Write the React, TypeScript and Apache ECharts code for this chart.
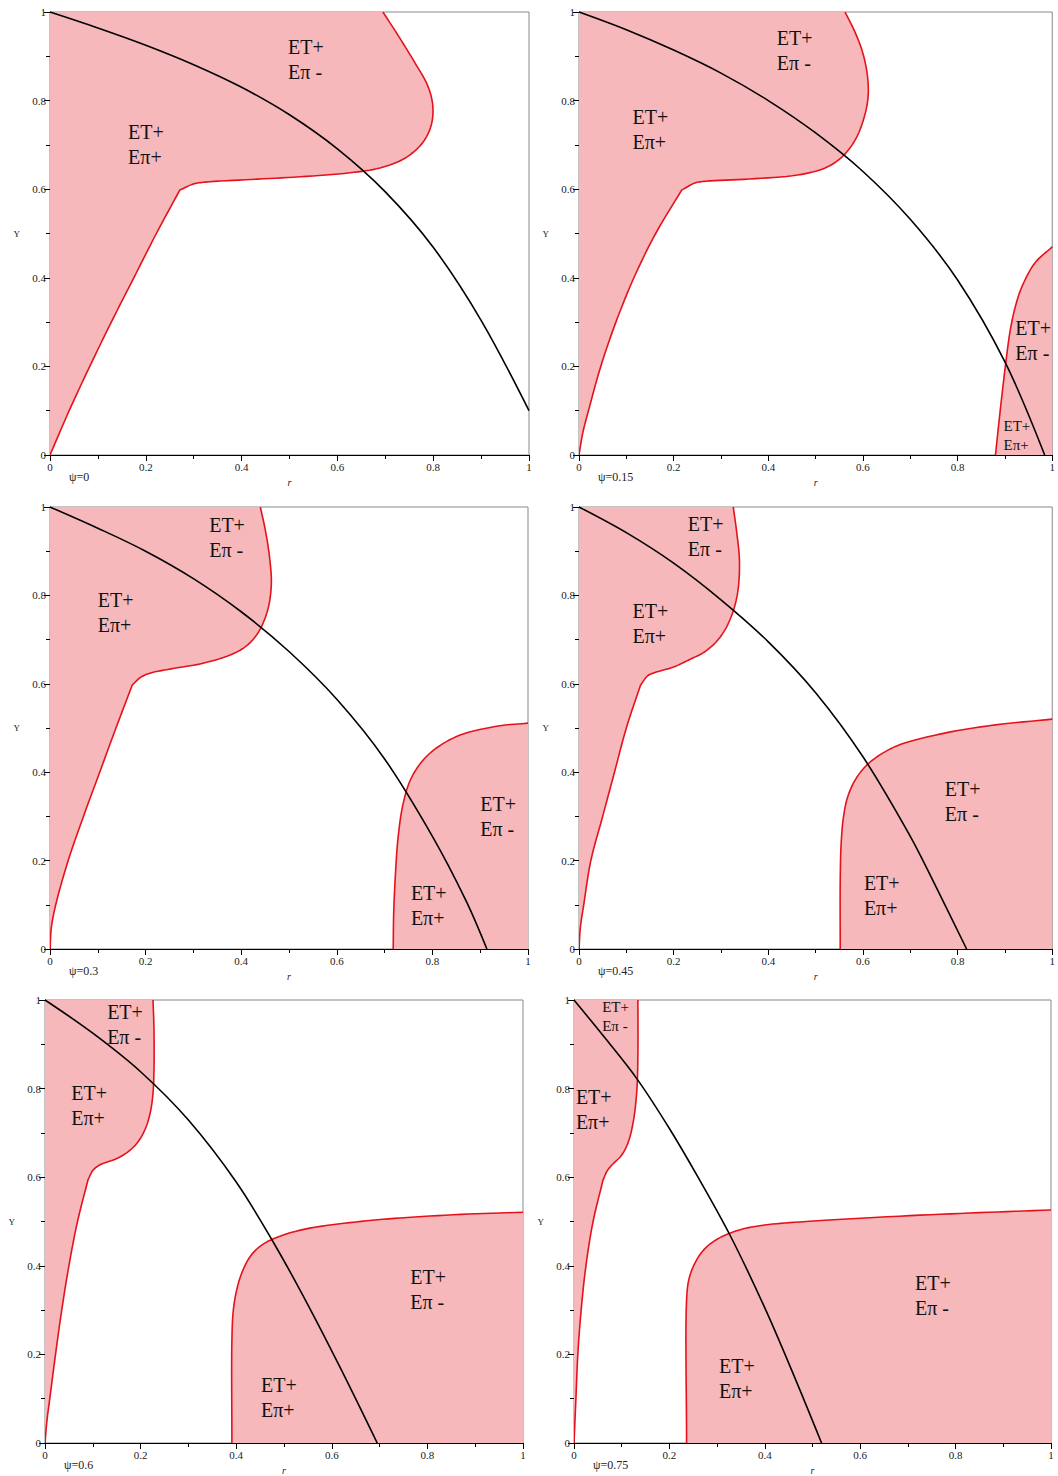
import React, { useEffect, useRef } from "react";
import * as echarts from "echarts";

// ---------- data ----------
const psiLabels = ["ψ=0", "ψ=0.15", "ψ=0.3", "ψ=0.45", "ψ=0.6", "ψ=0.75"];
const axisMin = 0;
const axisMax = 1;
const tickStep = 0.2;

// black curves
const blackP1 = [[0, 1], [0.1, 0.964], [0.2, 0.925], [0.3, 0.881], [0.4, 0.83], [0.5, 0.768], [0.6, 0.691], [0.7, 0.594], [0.8, 0.469], [0.9, 0.304], [1, 0.1]];
const blackP2 = [[0, 1], [0.1, 0.96], [0.2, 0.914], [0.3, 0.862], [0.4, 0.8], [0.5, 0.727], [0.6, 0.64], [0.7, 0.532], [0.8, 0.395], [0.9, 0.21], [0.984, 0]];
const blackP3 = [[0, 1], [0.1, 0.952], [0.2, 0.9], [0.3, 0.838], [0.4, 0.763], [0.5, 0.673], [0.6, 0.565], [0.7, 0.43], [0.8, 0.255], [0.87, 0.11], [0.914, 0]];
const blackP4 = [[0, 1], [0.1, 0.942], [0.2, 0.873], [0.3, 0.79], [0.4, 0.695], [0.5, 0.58], [0.6, 0.435], [0.7, 0.255], [0.75, 0.15], [0.819, 0]];
const blackP5 = [[0, 1], [0.1, 0.925], [0.2, 0.838], [0.3, 0.729], [0.4, 0.589], [0.481, 0.447], [0.55, 0.312], [0.62, 0.165], [0.695, 0]];
const blackP6 = [[0, 1], [0.066, 0.913], [0.132, 0.822], [0.2, 0.71], [0.26, 0.6], [0.329, 0.465], [0.4, 0.305], [0.46, 0.155], [0.519, 0]];

// red boundaries of the upper-left regions
const upperP1 = [[0, 0], [0.04, 0.1], [0.083, 0.2], [0.128, 0.3], [0.175, 0.4], [0.222, 0.5], [0.271, 0.598], [0.3, 0.612], [0.324, 0.616], [0.42, 0.622], [0.522, 0.628], [0.626, 0.637], [0.689, 0.648], [0.741, 0.67], [0.778, 0.705], [0.796, 0.745], [0.799, 0.79], [0.788, 0.835], [0.762, 0.885], [0.728, 0.945], [0.695, 1]];
const upperP2 = [[0, 0], [0.008, 0.05], [0.02, 0.1], [0.046, 0.2], [0.078, 0.3], [0.116, 0.4], [0.162, 0.5], [0.217, 0.598], [0.245, 0.614], [0.268, 0.618], [0.36, 0.623], [0.462, 0.632], [0.52, 0.648], [0.555, 0.672], [0.583, 0.71], [0.602, 0.76], [0.611, 0.81], [0.609, 0.86], [0.599, 0.91], [0.583, 0.955], [0.562, 1]];
const upperP3 = [[0, 0], [0.003, 0.05], [0.012, 0.1], [0.038, 0.2], [0.07, 0.3], [0.104, 0.4], [0.138, 0.5], [0.172, 0.597], [0.19, 0.615], [0.209, 0.624], [0.26, 0.635], [0.314, 0.645], [0.377, 0.665], [0.41, 0.685], [0.435, 0.715], [0.455, 0.765], [0.463, 0.824], [0.46, 0.88], [0.451, 0.945], [0.44, 1]];
const upperP4 = [[0, 0], [0.003, 0.05], [0.01, 0.1], [0.025, 0.2], [0.05, 0.3], [0.075, 0.4], [0.1, 0.5], [0.13, 0.597], [0.145, 0.618], [0.159, 0.625], [0.2, 0.638], [0.232, 0.654], [0.265, 0.672], [0.29, 0.695], [0.31, 0.725], [0.326, 0.765], [0.336, 0.812], [0.339, 0.88], [0.333, 0.945], [0.326, 1]];
const upperP5 = [[0, 0], [0.004, 0.05], [0.01, 0.1], [0.022, 0.2], [0.035, 0.3], [0.05, 0.4], [0.068, 0.5], [0.09, 0.594], [0.1, 0.615], [0.115, 0.628], [0.15, 0.642], [0.178, 0.661], [0.198, 0.685], [0.212, 0.715], [0.221, 0.75], [0.226, 0.79], [0.228, 0.842], [0.228, 0.932], [0.226, 1]];
const upperP6 = [[0, 0], [0.002, 0.05], [0.004, 0.1], [0.008, 0.2], [0.015, 0.3], [0.025, 0.4], [0.04, 0.5], [0.061, 0.594], [0.07, 0.615], [0.08, 0.628], [0.1, 0.65], [0.114, 0.68], [0.125, 0.73], [0.132, 0.8], [0.134, 0.88], [0.134, 1]];
// index of the sharp corner (near Y = 0.6) in each upper boundary
const upperCorner = [6, 7, 7, 7, 7, 7];

// red boundaries of the lower-right regions
const lowerP2 = [[0.88, 0], [0.89, 0.1], [0.902, 0.21], [0.911, 0.28], [0.922, 0.335], [0.936, 0.38], [0.963, 0.433], [1, 0.47]];
const lowerP3 = [[0.718, 0], [0.719, 0.08], [0.722, 0.156], [0.728, 0.25], [0.738, 0.325], [0.753, 0.38], [0.775, 0.42], [0.805, 0.452], [0.858, 0.484], [0.941, 0.505], [1, 0.511]];
const lowerP4 = [[0.552, 0], [0.552, 0.156], [0.554, 0.24], [0.559, 0.3], [0.568, 0.345], [0.585, 0.385], [0.608, 0.416], [0.64, 0.442], [0.68, 0.463], [0.775, 0.489], [0.88, 0.507], [1, 0.52]];
const lowerP5 = [[0.391, 0], [0.391, 0.233], [0.394, 0.3], [0.402, 0.35], [0.414, 0.39], [0.432, 0.425], [0.458, 0.45], [0.5, 0.47], [0.554, 0.485], [0.65, 0.499], [0.743, 0.508], [0.87, 0.516], [1, 0.521]];
const lowerP6 = [[0.236, 0], [0.236, 0.323], [0.241, 0.37], [0.253, 0.405], [0.272, 0.436], [0.3, 0.46], [0.347, 0.481], [0.4, 0.492], [0.473, 0.499], [0.682, 0.512], [0.85, 0.52], [1, 0.526]];

// region labels (data coordinates: left edge x, middle y)
const labelsP1 = [{ x: 0.497, y: 0.893, text: "ET+\nEπ -" }, { x: 0.163, y: 0.701, text: "ET+\nEπ+" }];
const labelsP2 = [{ x: 0.418, y: 0.913, text: "ET+\nEπ -" }, { x: 0.113, y: 0.735, text: "ET+\nEπ+" }, { x: 0.922, y: 0.258, text: "ET+\nEπ -" }];
const smallLabelsP2 = [{ x: 0.897, y: 0.043, text: "ET+\nEπ+" }];
const labelsP3 = [{ x: 0.333, y: 0.931, text: "ET+\nEπ -" }, { x: 0.1, y: 0.761, text: "ET+\nEπ+" }, { x: 0.9, y: 0.3, text: "ET+\nEπ -" }, { x: 0.755, y: 0.098, text: "ET+\nEπ+" }];
const labelsP4 = [{ x: 0.23, y: 0.933, text: "ET+\nEπ -" }, { x: 0.113, y: 0.736, text: "ET+\nEπ+" }, { x: 0.773, y: 0.334, text: "ET+\nEπ -" }, { x: 0.602, y: 0.121, text: "ET+\nEπ+" }];
const labelsP5 = [{ x: 0.13, y: 0.945, text: "ET+\nEπ -" }, { x: 0.055, y: 0.762, text: "ET+\nEπ+" }, { x: 0.764, y: 0.347, text: "ET+\nEπ -" }, { x: 0.452, y: 0.103, text: "ET+\nEπ+" }];
const labelsP6 = [{ x: 0.004, y: 0.753, text: "ET+\nEπ+" }, { x: 0.715, y: 0.333, text: "ET+\nEπ -" }, { x: 0.304, y: 0.146, text: "ET+\nEπ+" }];
const smallLabelsP6 = [{ x: 0.059, y: 0.962, text: "ET+\nEπ -" }];

// ---------- layout / style ----------
const GRIDS = [
  { left: 50, top: 12, width: 479, height: 443 },
  { left: 579, top: 12, width: 478.5, height: 443 },
  { left: 50, top: 507, width: 478, height: 442 },
  { left: 579, top: 507, width: 478.5, height: 442 },
  { left: 45, top: 1000, width: 478, height: 443 },
  { left: 574, top: 1000, width: 477, height: 443 },
];
const PINK = "#f6b8ba";
const RED = "#e5121c";
const SERIF = '"Liberation Serif", "Times New Roman", serif';

const panels = [
  { black: blackP1, upper: upperP1, lower: null, labels: labelsP1, small: [] },
  { black: blackP2, upper: upperP2, lower: lowerP2, labels: labelsP2, small: smallLabelsP2 },
  { black: blackP3, upper: upperP3, lower: lowerP3, labels: labelsP3, small: [] },
  { black: blackP4, upper: upperP4, lower: lowerP4, labels: labelsP4, small: [] },
  { black: blackP5, upper: upperP5, lower: lowerP5, labels: labelsP5, small: [] },
  { black: blackP6, upper: upperP6, lower: lowerP6, labels: labelsP6, small: smallLabelsP6 },
];

// centripetal Catmull-Rom smoothing of pixel points (rendering only)
function smoothPath(points: number[][], seg = 8): number[][] {
  if (points.length < 3) return points;
  const out: number[][] = [points[0]];
  const n = points.length;
  const dist = (a: number[], b: number[]) => Math.max(Math.pow(Math.hypot(b[0] - a[0], b[1] - a[1]), 0.5), 1e-3);
  for (let i = 0; i < n - 1; i++) {
    const p1 = points[i];
    const p2 = points[i + 1];
    const p0 = i > 0 ? points[i - 1] : [2 * p1[0] - p2[0], 2 * p1[1] - p2[1]];
    const p3 = i + 2 < n ? points[i + 2] : [2 * p2[0] - p1[0], 2 * p2[1] - p1[1]];
    const t0 = 0;
    const t1 = t0 + dist(p0, p1);
    const t2 = t1 + dist(p1, p2);
    const t3 = t2 + dist(p2, p3);
    for (let s = 1; s <= seg; s++) {
      const t = t1 + ((t2 - t1) * s) / seg;
      const lerp = (a: number[], b: number[], ta: number, tb: number) => [
        ((tb - t) * a[0] + (t - ta) * b[0]) / (tb - ta),
        ((tb - t) * a[1] + (t - ta) * b[1]) / (tb - ta),
      ];
      const A1 = lerp(p0, p1, t0, t1);
      const A2 = lerp(p1, p2, t1, t2);
      const A3 = lerp(p2, p3, t2, t3);
      const B1 = lerp(A1, A2, t0, t2);
      const B2 = lerp(A2, A3, t1, t3);
      out.push(lerp(B1, B2, t1, t2));
    }
  }
  return out;
}

function regionSeries(i: number, curve: number[][], corners: number[][], cornerIdx: number) {
  return {
    type: "custom",
    xAxisIndex: i,
    yAxisIndex: i,
    silent: true,
    clip: true,
    data: [[0, 0]],
    renderItem: (_params: any, api: any) => {
      const px = curve.map((p) => api.coord(p));
      let line: number[][];
      if (cornerIdx > 0) {
        const a = smoothPath(px.slice(0, cornerIdx + 1));
        const b = smoothPath(px.slice(cornerIdx));
        line = a.concat(b.slice(1));
      } else {
        line = smoothPath(px);
      }
      const poly = line.concat(corners.map((p) => api.coord(p)));
      return {
        type: "group",
        children: [
          { type: "polygon", shape: { points: poly }, style: { fill: PINK, stroke: null } },
          { type: "polyline", shape: { points: line }, style: { stroke: RED, lineWidth: 1.6, fill: null } },
        ],
      };
    },
  };
}

function labelSeries(i: number, items: { x: number; y: number; text: string }[], size: number, lh: number) {
  return {
    type: "custom",
    xAxisIndex: i,
    yAxisIndex: i,
    silent: true,
    clip: false,
    z: 5,
    data: items.map((d) => [d.x, d.y]),
    renderItem: (params: any, api: any) => {
      const item = items[params.dataIndex];
      const pt = api.coord([item.x, item.y]);
      return {
        type: "text",
        x: pt[0],
        y: pt[1],
        style: {
          text: item.text,
          fill: "#111",
          fontSize: size,
          fontFamily: SERIF,
          lineHeight: lh,
          align: "left",
          verticalAlign: "middle",
        },
      };
    },
  };
}

export default function App() {
  const ref = useRef<HTMLDivElement>(null);
  useEffect(() => {
    if (!ref.current) return;
    const chart = echarts.init(ref.current, null, { renderer: "svg" });
    const axisCommon = {
      type: "value",
      min: axisMin,
      max: axisMax,
      interval: tickStep,
      splitLine: { show: false },
      axisLine: { show: true, lineStyle: { color: "#000", width: 1 } },
      axisTick: { show: true, length: 6, lineStyle: { color: "#000" } },
      minorTick: { show: true, splitNumber: 2, length: 4, lineStyle: { color: "#000" } },
      axisLabel: { color: "#222", fontSize: 11, fontFamily: SERIF },
    };
    const series: any[] = [];
    panels.forEach((p, i) => {
      series.push(regionSeries(i, p.upper, [[0, 1]], upperCorner[i]));
      if (p.lower) series.push(regionSeries(i, p.lower, [[1, 0]], 0));
      series.push({
        type: "line",
        xAxisIndex: i,
        yAxisIndex: i,
        data: p.black,
        smooth: 0.35,
        symbol: "none",
        silent: true,
        lineStyle: { color: "#000", width: 1.6 },
        z: 4,
      });
      series.push(labelSeries(i, p.labels, 20, 25));
      if (p.small.length) series.push(labelSeries(i, p.small, 15, 19));
    });
    chart.setOption({
      animation: false,
      grid: GRIDS.map((g) => ({ ...g, show: true, borderColor: "#888", borderWidth: 1, backgroundColor: "transparent" })),
      xAxis: GRIDS.map((_, i) => ({
        ...axisCommon,
        gridIndex: i,
        name: "r",
        nameLocation: "middle",
        nameGap: 22,
        nameTextStyle: { fontSize: 10, fontStyle: "italic", fontFamily: SERIF, color: "#222" },
        axisLabel: { ...axisCommon.axisLabel, margin: 6 },
      })),
      yAxis: GRIDS.map((_, i) => ({
        ...axisCommon,
        gridIndex: i,
        name: "Y",
        nameLocation: "middle",
        nameGap: 30,
        nameRotate: 0,
        nameTextStyle: { fontSize: 9, fontFamily: SERIF, color: "#222" },
        axisLabel: { ...axisCommon.axisLabel, margin: 4 },
      })),
      graphic: GRIDS.map((g, i) => ({
        type: "text",
        left: g.left + 19,
        top: g.top + g.height + 16,
        style: { text: psiLabels[i], fontSize: 12, fontFamily: SERIF, fill: "#222" },
      })),
      series,
    });
    return () => chart.dispose();
  }, []);
  return <div ref={ref} style={{ position: "absolute", left: 0, top: 0, width: 1058, height: 1476 }} />;
}
